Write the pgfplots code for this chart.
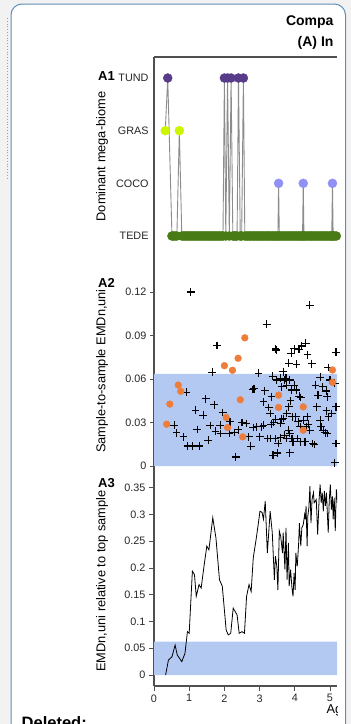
\documentclass[border=0pt]{standalone}
\usepackage{fontspec}
\setmainfont{Liberation Sans}
\usepackage{pgfplots}
\pgfplotsset{compat=1.18}
\definecolor{bggray}{RGB}{242,242,242}
\definecolor{boxblue}{RGB}{96,140,185}
\definecolor{band}{RGB}{180,201,242}
\definecolor{tund}{RGB}{88,60,138}
\definecolor{gras}{RGB}{204,245,0}
\definecolor{coco}{RGB}{145,145,245}
\definecolor{tede}{RGB}{72,122,22}
\definecolor{orng}{RGB}{238,125,60}
\definecolor{spine}{RGB}{80,80,80}
\pgfplotsset{
  panel/.style={scale only axis, width=183pt, xmin=0, xmax=5.199,
    axis line style={spine, line width=1.2pt},
    tick style={spine, line width=0.9pt},
    tick align=outside, major tick length=4pt,
    ticklabel style={font=\fontsize{10.8}{12}\selectfont, text=black!85},
    /pgf/number format/assume math mode=true,
    clip=true,
  }
}
\begin{document}
\begin{tikzpicture}
\useasboundingbox (0,0) rectangle (351pt,-724pt);
\clip (0,0) rectangle (351pt,-724pt);
\fill[bggray] (0,0) rectangle (351pt,-724pt);
\draw[boxblue, line width=1pt, fill=white, rounded corners=11pt] (11pt,-4pt) rectangle (345.5pt,-800pt);
\draw[boxblue!80, line width=0.8pt, dotted] (7pt,-18pt) -- (7pt,-180pt);

% titles (cropped)
\node[anchor=base east, font=\bfseries\fontsize{14}{16}\selectfont] at (337pt,-25pt) {Compa};
\node[anchor=base east, font=\bfseries\fontsize{14}{16}\selectfont] at (337pt,-46.5pt) {(A) In};
\node[anchor=base west, font=\bfseries\fontsize{13}{15}\selectfont, inner sep=0pt] at (98pt,-80pt) {A1};
\node[anchor=base west, font=\bfseries\fontsize{13}{15}\selectfont, inner sep=0pt] at (98pt,-287pt) {A2};
\node[anchor=base west, font=\bfseries\fontsize{13}{15}\selectfont, inner sep=0pt] at (98pt,-487pt) {A3};
\node[rotate=90, font=\fontsize{12.8}{14}\selectfont] at (102pt,-156.5pt) {Dominant mega-biome};
\node[rotate=90, font=\fontsize{12.8}{14}\selectfont] at (102pt,-371pt) {Sample-to-sample EMDn,uni};
\node[rotate=90, font=\fontsize{12.8}{14}\selectfont] at (102pt,-581pt) {EMDn,uni relative to top sample};
\begin{scope}
\clip (0,-690pt) rectangle (337pt,-724pt);
\node[anchor=base west, font=\fontsize{12.8}{14}\selectfont, inner sep=0pt] at (326.5pt,-713pt) {Ag};
\end{scope}
\node[anchor=base west, font=\bfseries\fontsize{16.5}{18}\selectfont, inner sep=0pt] at (21.5pt,-728pt) {Deleted:};

% A1
\begin{axis}[panel, at={(154pt,-57pt)}, anchor=north west, height=205pt,
  ymin=-0.494, ymax=3.399, axis x line*=top, axis y line*=left,
  xtick=\empty, ytick={0,1,2,3}, yticklabels={TEDE,COCO,GRAS,TUND},
  major tick length=0pt, yticklabel style={xshift=-2pt}]
\addplot[color=black!45, line width=0.9pt, mark=none] coordinates {
(0.32,2) (0.39,3) (0.51,0) (0.55,0) (0.60,0) (0.65,0) (0.72,2) (0.79,0) (0.84,0) (0.88,0)
(0.93,0) (0.97,0) (1.02,0) (1.06,0) (1.11,0) (1.15,0) (1.20,0) (1.24,0) (1.29,0) (1.33,0)
(1.38,0) (1.42,0) (1.47,0) (1.51,0) (1.56,0) (1.60,0) (1.65,0) (1.69,0) (1.74,0) (1.78,0)
(1.83,0) (1.87,0) (1.92,0) (1.96,0) (2.00,3) (2.04,0) (2.09,3) (2.14,0) (2.19,3) (2.24,0)
(2.28,0) (2.32,0) (2.36,0) (2.40,3) (2.45,0) (2.49,0) (2.54,3) (2.58,0) (2.63,0) (2.67,0)
(2.72,0) (2.76,0) (2.81,0) (2.85,0) (2.90,0) (2.94,0) (2.99,0) (3.03,0) (3.08,0) (3.12,0)
(3.17,0) (3.21,0) (3.26,0) (3.30,0) (3.35,0) (3.39,0) (3.44,0) (3.48,0) (3.52,0) (3.54,1)
(3.56,0) (3.60,0) (3.65,0) (3.69,0) (3.74,0) (3.78,0) (3.83,0) (3.87,0) (3.92,0) (3.96,0)
(4.01,0) (4.05,0) (4.10,0) (4.14,0) (4.19,0) (4.22,0) (4.24,1) (4.26,0) (4.30,0) (4.35,0)
(4.39,0) (4.44,0) (4.48,0) (4.53,0) (4.57,0) (4.62,0) (4.66,0) (4.71,0) (4.75,0) (4.80,0)
(4.84,0) (4.89,0) (4.93,0) (4.98,0) (5.02,0) (5.05,0) (5.07,1) (5.09,0) (5.13,0) (5.18,0)
(5.22,0) (5.27,0)};
\addplot[only marks, mark=*, mark size=4.5pt, color=tede] coordinates {
(0.51,0) (0.55,0) (0.60,0) (0.65,0) (0.79,0) (0.84,0) (0.88,0)
(0.93,0) (0.97,0) (1.02,0) (1.06,0) (1.11,0) (1.15,0) (1.20,0) (1.24,0) (1.29,0) (1.33,0)
(1.38,0) (1.42,0) (1.47,0) (1.51,0) (1.56,0) (1.60,0) (1.65,0) (1.69,0) (1.74,0) (1.78,0)
(1.83,0) (1.87,0) (1.92,0) (1.96,0) (2.04,0) (2.14,0) (2.24,0)
(2.28,0) (2.32,0) (2.36,0) (2.45,0) (2.49,0) (2.58,0) (2.63,0) (2.67,0)
(2.72,0) (2.76,0) (2.81,0) (2.85,0) (2.90,0) (2.94,0) (2.99,0) (3.03,0) (3.08,0) (3.12,0)
(3.17,0) (3.21,0) (3.26,0) (3.30,0) (3.35,0) (3.39,0) (3.44,0) (3.48,0) (3.52,0)
(3.56,0) (3.60,0) (3.65,0) (3.69,0) (3.74,0) (3.78,0) (3.83,0) (3.87,0) (3.92,0) (3.96,0)
(4.01,0) (4.05,0) (4.10,0) (4.14,0) (4.19,0) (4.22,0) (4.26,0) (4.30,0) (4.35,0)
(4.39,0) (4.44,0) (4.48,0) (4.53,0) (4.57,0) (4.62,0) (4.66,0) (4.71,0) (4.75,0) (4.80,0)
(4.84,0) (4.89,0) (4.93,0) (4.98,0) (5.02,0) (5.05,0) (5.09,0) (5.13,0) (5.18,0)
(5.22,0) (5.27,0)};
\addplot[only marks, mark=*, mark size=4.5pt, color=tund] coordinates {
(0.39,3) (2.00,3) (2.09,3) (2.19,3) (2.40,3) (2.54,3)};
\addplot[only marks, mark=*, mark size=4.5pt, color=gras] coordinates {
(0.32,2) (0.72,2)};
\addplot[only marks, mark=*, mark size=4.5pt, color=coco] coordinates {
(3.54,1) (4.24,1) (5.07,1)};
\end{axis}

% A2
\begin{axis}[panel, at={(154pt,-262pt)}, anchor=north west, height=210pt,
  ymin=-0.00414, ymax=0.1407, axis x line=none, axis y line*=left,
  ytick={0,0.03,0.06,0.09,0.12}, yticklabels={0,0.03,0.06,0.09,0.12}]
\addplot[fill=band, draw=none] coordinates {(0,0) (5.4,0) (5.4,0.0635) (0,0.0635)} \closedcycle;
\addplot[only marks, mark=+, mark size=3.9pt, black, line width=1.1pt] coordinates {
(1.04,0.120) (1.79,0.0831) (1.65,0.0648) (0.92,0.0508) (1.47,0.0464) (1.71,0.0422)
(1.18,0.0385) (1.40,0.0351) (0.57,0.0282) (0.64,0.0228) (0.84,0.0201) (0.95,0.0138)
(1.10,0.0138) (1.29,0.0138) (1.54,0.0178) (1.23,0.0252) (1.95,0.0369) (1.88,0.0282)
(1.90,0.0224) (2.16,0.0305) (2.28,0.0231) (2.14,0.0224) (2.32,0.0062) (2.63,0.0293)
(2.69,0.0201) (2.75,0.0136) (2.82,0.0265) (2.92,0.0270) (2.80,0.0528) (2.84,0.0533)
(2.97,0.0639) (3.01,0.0201) (3.11,0.0443) (3.20,0.0978) (3.23,0.0190) (3.30,0.0190)
(3.26,0.0404) (3.30,0.0362) (3.34,0.0478) (3.33,0.0288) (3.37,0.0620) (3.45,0.0808)
(3.47,0.0800) (3.38,0.0074) (3.45,0.0323) (3.48,0.0593) (3.60,0.0605) (3.63,0.0323)
(3.67,0.0651) (3.71,0.0593) (3.75,0.0605) (3.77,0.0558) (3.83,0.0708) (3.83,0.0247)
(3.86,0.0224) (3.86,0.0092) (3.90,0.0778) (3.98,0.0808) (4.05,0.0702) (4.12,0.0805)
(4.19,0.0828) (4.31,0.0847) (4.36,0.0766) (4.43,0.1110) (4.48,0.0704) (3.98,0.0558)
(4.05,0.0524) (4.13,0.0482) (4.17,0.0473) (3.93,0.0339) (4.03,0.0339) (4.10,0.0305)
(4.15,0.0270) (3.95,0.0166) (4.15,0.0166) (4.29,0.0166) (4.36,0.0339) (4.43,0.0247)
(4.51,0.0155) (4.55,0.0148) (4.59,0.0558) (4.66,0.0489) (4.62,0.0408) (4.72,0.0612)
(4.76,0.0270) (4.81,0.0247) (4.86,0.0228) (4.92,0.0224) (4.95,0.0679) (4.89,0.0517)
(4.92,0.0478) (5.00,0.0593) (5.05,0.0362) (4.90,0.0381) (4.96,0.0339) (5.14,0.0570)
(5.17,0.0785) (5.17,0.0408) (5.17,0.0155) (5.14,0.0023) (3.60,0.0194) (3.53,0.0155)
(3.11,0.0282) (3.06,0.0270) (3.60,0.0293) (3.67,0.0328) (3.77,0.0362) (3.83,0.0408)
(3.88,0.0450) (4.24,0.0316) (4.32,0.0270) (4.38,0.0288) (4.72,0.0316) (4.74,0.0270)
(4.79,0.0547) (3.91,0.0524) (3.86,0.0593) (3.63,0.0547) (3.51,0.0090) (3.44,0.0190)
(3.72,0.0212) (3.77,0.0190) (3.92,0.0190) (4.07,0.0190) (2.50,0.0300) (2.40,0.0250)
(1.60,0.0280) (1.75,0.0240) (3.15,0.0520) (3.40,0.0300)};
\addplot[only marks, mark=*, mark size=3.4pt, color=orng] coordinates {
(0.36,0.0288) (0.45,0.0427) (0.69,0.0558) (0.76,0.0515) (2.00,0.0692) (2.23,0.0660)
(2.39,0.0743) (2.58,0.0884) (2.45,0.0457) (2.05,0.0335) (2.09,0.0265) (2.52,0.0201)
(3.54,0.0489) (3.54,0.0404) (4.24,0.0408) (4.24,0.0247) (5.07,0.0662) (5.07,0.0577)};
\end{axis}

% A3
\begin{axis}[panel, at={(154pt,-472pt)}, anchor=north west, height=214pt,
  ymin=-0.02056, ymax=0.3794, axis x line*=bottom, axis y line*=left,
  major tick length=5pt,
  xtick={0,1,2,3,4,5}, xticklabels={0,1,2,3,4,5},
  ytick={0,0.05,0.1,0.15,0.2,0.25,0.3,0.35},
  yticklabels={0,0.05,0.1,0.15,0.2,0.25,0.3,0.35}]
\addplot[fill=band, draw=none] coordinates {(0,0) (5.4,0) (5.4,0.0625) (0,0.0625)} \closedcycle;
\addplot[black, line width=0.8pt, mark=none] coordinates {
(0.33,0) (0.41,0.028) (0.51,0.034) (0.60,0.056) (0.66,0.0375) (0.79,0.025) (0.88,0.0406)
(0.95,0.081) (1.00,0.078) (1.09,0.194) (1.15,0.1875) (1.20,0.147) (1.28,0.169) (1.34,0.1625)
(1.42,0.203) (1.50,0.241) (1.56,0.234) (1.67,0.294) (1.76,0.256) (1.86,0.178) (1.94,0.166)
(2.05,0.084) (2.11,0.075) (2.18,0.078) (2.25,0.125) (2.36,0.1125) (2.42,0.078) (2.50,0.081)
(2.57,0.078) (2.63,0.147) (2.70,0.169) (2.76,0.156) (2.82,0.219) (2.90,0.253) (2.96,0.281)
(3.01,0.306) (3.07,0.304) (3.11,0.291) (3.16,0.325) (3.22,0.228) (3.30,0.306) (3.36,0.266)
(3.42,0.178) (3.45,0.222) (3.49,0.203) (3.52,0.159) (3.56,0.269) (3.60,0.259) (3.65,0.228)
(3.67,0.266) (3.72,0.197) (3.75,0.275) (3.78,0.178) (3.82,0.247) (3.84,0.166) (3.88,0.197)
(3.92,0.1625) (3.95,0.147) (3.98,0.191) (4.01,0.159) (4.03,0.228) (4.07,0.203) (4.11,0.247)
(4.13,0.284) (4.17,0.241) (4.20,0.275) (4.24,0.281) (4.28,0.300) (4.30,0.291) (4.32,0.316)
(4.35,0.241) (4.37,0.297) (4.40,0.3125) (4.43,0.353) (4.46,0.284) (4.49,0.328) (4.53,0.341)
(4.55,0.322) (4.58,0.325) (4.61,0.328) (4.65,0.2625) (4.69,0.328) (4.72,0.356) (4.75,0.322)
(4.78,0.341) (4.81,0.306) (4.84,0.344) (4.87,0.316) (4.90,0.341) (4.92,0.309) (4.95,0.266)
(4.98,0.328) (5.01,0.356) (5.04,0.309) (5.07,0.334) (5.09,0.291) (5.12,0.331) (5.15,0.269)
(5.18,0.347) (5.21,0.322)};
\end{axis}
\end{tikzpicture}
\end{document}
